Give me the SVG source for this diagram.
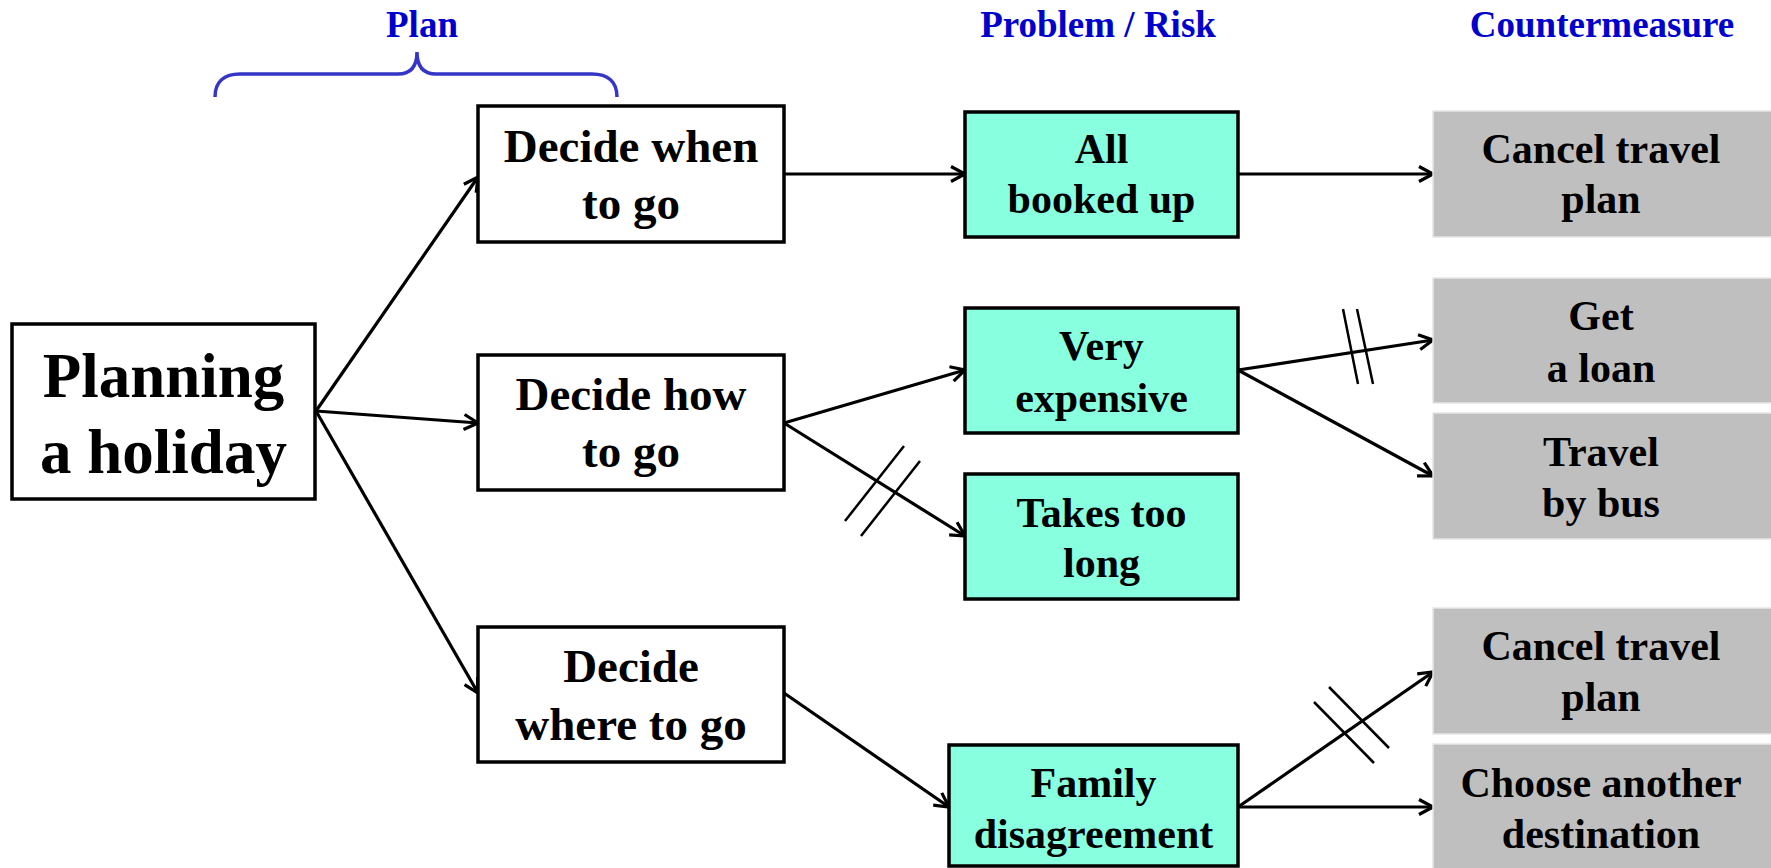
<svg xmlns="http://www.w3.org/2000/svg" width="1771" height="868" viewBox="0 0 1771 868">
<style>
text{font-family:"Liberation Serif","Times New Roman",serif;font-weight:bold;text-anchor:middle;fill:#000}
.title{font-size:37px;fill:#0000cc}
.big{font-size:63px}
.mid{font-size:47px}
.sm{font-size:42px}
.wbox{fill:#fff;stroke:#000;stroke-width:3.5}
.tbox{fill:#88ffdf;stroke:#000;stroke-width:3.5}
.gbox{fill:#bfbfbf;stroke:#e6e6e6;stroke-width:1.5}
.conn line{stroke:#000;stroke-width:3.2;fill:none}
.conn line.arr{marker-end:url(#arrow)}
.conn line.slash{stroke-width:2.5}
</style>
<defs>
<marker id="arrow" markerUnits="userSpaceOnUse" viewBox="0 0 18 18" refX="16" refY="9" markerWidth="18" markerHeight="18" orient="auto">
<path d="M2,1.5 L16,9 L2,16.5" fill="none" stroke="#000" stroke-width="3.2"/>
</marker>
</defs>
<rect width="1771" height="868" fill="#fff"/>
<g id="titles">
<text class="title" x="422" y="37">Plan</text>
<text class="title" x="1098" y="37">Problem / Risk</text>
<text class="title" x="1602" y="37">Countermeasure</text>
<path d="M215,97 C215,82 224,74 240,74 L398,74 C411,74 417,66 417,52 C417,66 423,74 436,74 L592,74 C608,74 617,82 617,97" fill="none" stroke="#3535c8" stroke-width="3.5"/>
</g>
<g class="conn" id="connectors">
<line class="arr" x1="316" y1="411" x2="478" y2="177"/>
<line class="arr" x1="316" y1="411" x2="478" y2="423"/>
<line class="arr" x1="316" y1="411" x2="478" y2="693"/>
<line class="arr" x1="784" y1="174" x2="965" y2="174"/>
<line class="arr" x1="1238" y1="174" x2="1433" y2="174"/>
<line class="arr" x1="784" y1="423" x2="965" y2="370"/>
<line class="arr" x1="784" y1="423" x2="965" y2="536"/>
<line class="arr" x1="1238" y1="370" x2="1433" y2="340"/>
<line class="arr" x1="1238" y1="370" x2="1433" y2="476"/>
<line class="arr" x1="784" y1="693" x2="949" y2="807"/>
<line class="arr" x1="1238" y1="807" x2="1433" y2="672"/>
<line class="arr" x1="1238" y1="807" x2="1433" y2="807"/>
<line class="slash" x1="904" y1="446" x2="845" y2="521"/>
<line class="slash" x1="920" y1="461" x2="861" y2="536"/>
<line class="slash" x1="1343" y1="309" x2="1358" y2="384"/>
<line class="slash" x1="1357" y1="309" x2="1373" y2="384"/>
<line class="slash" x1="1329" y1="687" x2="1389" y2="748"/>
<line class="slash" x1="1314" y1="702" x2="1374" y2="763"/>
</g>
<g id="n-planning">
<rect class="wbox" x="12" y="324" width="303" height="175"/>
<text class="big" x="163.5" y="397">Planning</text>
<text class="big" x="163.5" y="473">a holiday</text>
</g>
<g id="n-when">
<rect class="wbox" x="478" y="106" width="306" height="136"/>
<text class="mid" x="631" y="162">Decide when</text>
<text class="mid" x="631" y="219">to go</text>
</g>
<g id="n-how">
<rect class="wbox" x="478" y="355" width="306" height="135"/>
<text class="mid" x="631" y="410">Decide how</text>
<text class="mid" x="631" y="467">to go</text>
</g>
<g id="n-where">
<rect class="wbox" x="478" y="627" width="306" height="135"/>
<text class="mid" x="631" y="682">Decide</text>
<text class="mid" x="631" y="740">where to go</text>
</g>
<g id="n-booked">
<rect class="tbox" x="965" y="112" width="273" height="125"/>
<text class="sm" x="1101.5" y="163">All</text>
<text class="sm" x="1101.5" y="213">booked up</text>
</g>
<g id="n-expensive">
<rect class="tbox" x="965" y="308" width="273" height="125"/>
<text class="sm" x="1101.5" y="360">Very</text>
<text class="sm" x="1101.5" y="412">expensive</text>
</g>
<g id="n-long">
<rect class="tbox" x="965" y="474" width="273" height="125"/>
<text class="sm" x="1101.5" y="527">Takes too</text>
<text class="sm" x="1101.5" y="577">long</text>
</g>
<g id="n-family">
<rect class="tbox" x="949" y="745" width="289" height="121"/>
<text class="sm" x="1093.5" y="797">Family</text>
<text class="sm" x="1093.5" y="848">disagreement</text>
</g>
<g id="n-cancel1">
<rect class="gbox" x="1433" y="111" width="340" height="126"/>
<text class="sm" x="1601" y="163">Cancel travel</text>
<text class="sm" x="1601" y="213">plan</text>
</g>
<g id="n-loan">
<rect class="gbox" x="1433" y="278" width="340" height="125"/>
<text class="sm" x="1601" y="330">Get</text>
<text class="sm" x="1601" y="382">a loan</text>
</g>
<g id="n-bus">
<rect class="gbox" x="1433" y="413" width="340" height="126"/>
<text class="sm" x="1601" y="466">Travel</text>
<text class="sm" x="1601" y="517">by bus</text>
</g>
<g id="n-cancel2">
<rect class="gbox" x="1433" y="608" width="340" height="126"/>
<text class="sm" x="1601" y="660">Cancel travel</text>
<text class="sm" x="1601" y="711">plan</text>
</g>
<g id="n-another">
<rect class="gbox" x="1433" y="744" width="340" height="126"/>
<text class="sm" x="1601" y="797">Choose another</text>
<text class="sm" x="1601" y="848">destination</text>
</g>
</svg>
